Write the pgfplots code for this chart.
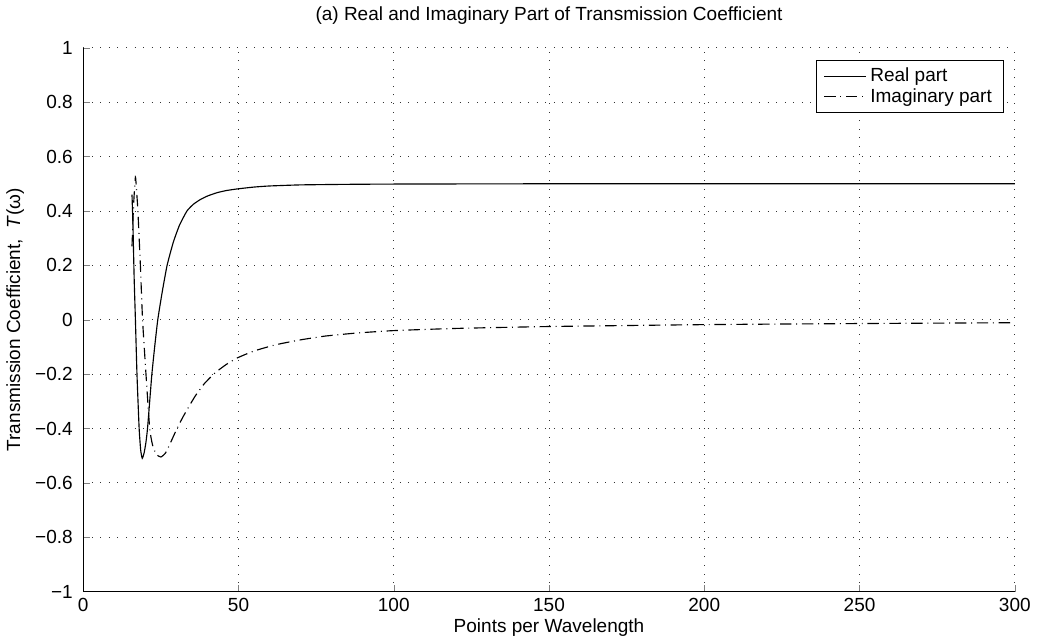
\documentclass[border=0pt]{standalone}
\usepackage{fontspec}
\setmainfont{Liberation Sans}
\usepackage{pgfplots}
\pgfplotsset{compat=1.18}

\begin{document}
\begin{tikzpicture}
  \begin{axis}[
    width=490pt, height=286pt,
    scale only axis,
    axis lines*=left,
    axis line style={-},
    tick align=inside,
    major tick length=3.5pt,
    xmin=0, xmax=300, ymin=-1, ymax=1,
    xtick={0,50,...,300},
    ytick={-1,-0.8,-0.6,-0.4,-0.2,0,0.2,0.4,0.6,0.8,1},
    yticklabels={−1,−0.8,−0.6,−0.4,−0.2,0,0.2,0.4,0.6,0.8,1},
    /pgf/number format/assume math mode=true,
    grid=major,
    major grid style={black!80, line width=0.4pt, dash pattern=on 0.5pt off 4pt},
    tick label style={font=\normalsize},
    yticklabel style={xshift=-2pt},
    title={(a) Real and Imaginary Part of Transmission Coefficient},
    title style={yshift=3pt},
    xlabel={Points per Wavelength},
    ylabel={Transmission Coefficient,\ \ \textit{T}(ω)},
    xlabel style={yshift=3pt},
    ylabel style={yshift=-1pt},
    legend style={at={(0.988,0.978)}, anchor=north east, draw=black,
      font=\normalsize, row sep=-2pt, inner xsep=4pt, inner ysep=2pt},
    legend cell align=left,
    legend image code/.code={\draw[#1] (0pt,0pt) -- (22pt,0pt);},
  ]
    \addplot[black, line width=0.6pt, smooth, tension=0.3] coordinates {
      (15.7,0.46) (16.0,0.35) (16.4,0.15) (16.8,0.0) (17.3,-0.2)
      (18.0,-0.4) (18.5,-0.48) (19.0,-0.51) (19.6,-0.49) (20.2,-0.45)
      (20.7,-0.4) (21.4,-0.3) (22.1,-0.2) (23.0,-0.1) (24.0,0.0)
      (25.4,0.1) (27.0,0.2) (29,0.285) (31,0.348) (33.4,0.4)
      (35.5,0.425) (37.7,0.442) (40,0.455) (43,0.467) (46,0.475)
      (49.5,0.481) (55,0.488) (60,0.492) (70,0.496) (85,0.498)
      (100,0.499) (150,0.5) (300,0.5)
    };
    \addlegendentry{Real part}
    \addplot[black, line width=0.6pt, smooth, tension=0.3,
      dash pattern=on 6pt off 2.5pt on 0.5pt off 2.5pt] coordinates {
      (15.7,0.27) (16.2,0.42) (16.8,0.525) (17.2,0.47) (17.6,0.4)
      (18.4,0.2) (19.1,0.0) (20.2,-0.2) (21.4,-0.4) (22.3,-0.46)
      (23.5,-0.495) (25,-0.505) (26.5,-0.49) (28,-0.455) (30,-0.405)
      (32,-0.36) (34,-0.32) (36.1,-0.28) (39,-0.235) (42.5,-0.195)
      (46,-0.165) (49.5,-0.141) (55,-0.115) (62,-0.092) (70,-0.074)
      (78,-0.06) (88,-0.049) (100,-0.04) (120,-0.032) (150,-0.025)
      (200,-0.018) (250,-0.014) (300,-0.011)
    };
    \addlegendentry{Imaginary part}
  \end{axis}
\end{tikzpicture}
\end{document}
